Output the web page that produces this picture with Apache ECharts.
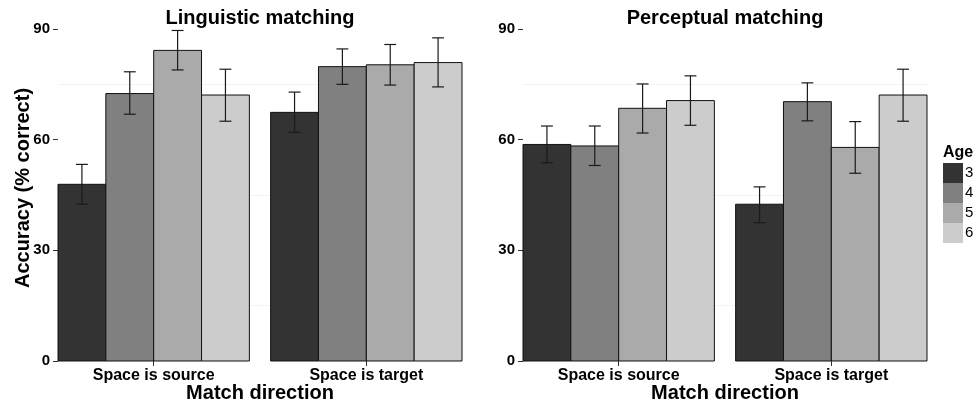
<!DOCTYPE html>
<html>
<head>
<meta charset="utf-8">
<script src="https://cdn.jsdelivr.net/npm/echarts@6/dist/echarts.min.js"></script>
<style>
html,body{margin:0;padding:0;background:#fff;}
#chart{width:976px;height:406px;}
</style>
</head>
<body>
<div id="chart"></div>
<script>
// ---- Data ----
const categories = ['Space is source', 'Space is target'];
const ages = ['3', '4', '5', '6'];
const ageColors = ['#333333', '#808080', '#aaaaaa', '#cccccc'];
const yTicks = [0, 30, 60, 90];

const linguisticSourceMean = [47.9, 72.5, 84.2, 72.1];
const linguisticSourceLow  = [42.5, 66.9, 78.9, 65.0];
const linguisticSourceHigh = [53.3, 78.4, 89.6, 79.1];
const linguisticTargetMean = [67.4, 79.8, 80.3, 80.9];
const linguisticTargetLow  = [62.0, 75.0, 74.8, 74.3];
const linguisticTargetHigh = [72.9, 84.6, 85.8, 87.6];

const perceptualSourceMean = [58.7, 58.3, 68.5, 70.6];
const perceptualSourceLow  = [53.7, 53.0, 61.8, 63.9];
const perceptualSourceHigh = [63.7, 63.7, 75.1, 77.3];
const perceptualTargetMean = [42.5, 70.3, 57.9, 72.1];
const perceptualTargetLow  = [37.5, 65.1, 50.9, 65.0];
const perceptualTargetHigh = [47.2, 75.4, 64.9, 79.1];

const panelTitles = ['Linguistic matching', 'Perceptual matching'];
const xTitle = 'Match direction';
const yTitle = 'Accuracy (% correct)';
const legendTitle = 'Age';
const panels = [
  {mean: [linguisticSourceMean, linguisticTargetMean], low: [linguisticSourceLow, linguisticTargetLow], high: [linguisticSourceHigh, linguisticTargetHigh]},
  {mean: [perceptualSourceMean, perceptualTargetMean], low: [perceptualSourceLow, perceptualTargetLow], high: [perceptualSourceHigh, perceptualTargetHigh]}
];

// ---- Layout ----
const FONT = 'Liberation Sans, Arial, Helvetica, sans-serif';
const grids = [
  {left: 58, top: 29, width: 404, height: 332, outerBoundsMode: 'none', containLabel: false},
  {left: 523, top: 29, width: 404, height: 332, outerBoundsMode: 'none', containLabel: false}
];
const GROUP_W = 0.9, BAR_W = GROUP_W / 4, CAP_HALF = 0.028;

function barRender(params, api) {
  const g = api.value(0), v = api.value(1), a = api.value(2);
  const x0 = g - GROUP_W / 2 + a * BAR_W;
  const p0 = api.coord([x0, v]);
  const p1 = api.coord([x0 + BAR_W, 0]);
  return {
    type: 'rect',
    shape: {x: p0[0], y: p0[1], width: p1[0] - p0[0], height: p1[1] - p0[1]},
    style: {fill: api.visual('color'), stroke: '#111', lineWidth: 1}
  };
}
function errRender(params, api) {
  const g = api.value(0), a = api.value(1), lo = api.value(2), hi = api.value(3);
  const xc = g - GROUP_W / 2 + (a + 0.5) * BAR_W;
  const top = api.coord([xc, hi]), bot = api.coord([xc, lo]);
  const cl = api.coord([xc - CAP_HALF, hi]), cr = api.coord([xc + CAP_HALF, hi]);
  const bl = api.coord([xc - CAP_HALF, lo]), br = api.coord([xc + CAP_HALF, lo]);
  const st = {stroke: '#1a1a1a', lineWidth: 1.2};
  return {
    type: 'group',
    children: [
      {type: 'line', shape: {x1: top[0], y1: top[1], x2: bot[0], y2: bot[1]}, style: st},
      {type: 'line', shape: {x1: cl[0], y1: cl[1], x2: cr[0], y2: cr[1]}, style: st},
      {type: 'line', shape: {x1: bl[0], y1: bl[1], x2: br[0], y2: br[1]}, style: st}
    ]
  };
}
function txt(text, x, y, font, align, rotation) {
  return {
    type: 'text', x: x, y: y, rotation: rotation || 0,
    style: {text: text, font: font, fill: '#000',
      textAlign: align, textVerticalAlign: 'middle', align: align, verticalAlign: 'middle'}
  };
}

const xAxes = [], yAxes = [], series = [], graphics = [];
grids.forEach((gr, pi) => {
  xAxes.push({
    gridIndex: pi, type: 'value', min: 0.55, max: 2.45,
    axisLine: {show: false},
    axisTick: {show: true, length: 5, customValues: [1, 2], lineStyle: {color: '#333', width: 1}},
    axisLabel: {customValues: [1, 2], formatter: v => categories[Math.round(v) - 1],
      color: '#000', fontWeight: 'bold', fontSize: 16, fontFamily: FONT, margin: 7},
    splitLine: {show: false}
  });
  yAxes.push({
    gridIndex: pi, type: 'value', min: yTicks[0], max: yTicks[yTicks.length - 1], interval: 30,
    axisLine: {show: false},
    axisTick: {show: true, length: 5, lineStyle: {color: '#333', width: 1}},
    axisLabel: {color: '#000', fontWeight: 'bold', fontSize: 15, fontFamily: FONT, margin: 8},
    splitLine: {show: false},
    minorTick: {show: false, splitNumber: 2},
    minorSplitLine: {show: true, lineStyle: {color: '#f3f3f3', width: 1}}
  });
  const p = panels[pi];
  ages.forEach((age, a) => {
    series.push({
      type: 'custom', name: age, xAxisIndex: pi, yAxisIndex: pi,
      itemStyle: {color: ageColors[a]},
      encode: {x: 0, y: 1},
      data: categories.map((c, g) => [g + 1, p.mean[g][a], a]),
      renderItem: barRender, z: 2, silent: true
    });
  });
  const errData = [];
  categories.forEach((c, g) => ages.forEach((age, a) => errData.push([g + 1, a, p.low[g][a], p.high[g][a]])));
  series.push({
    type: 'custom', xAxisIndex: pi, yAxisIndex: pi,
    encode: {x: 0, y: [2, 3]},
    data: errData, renderItem: errRender, z: 5, silent: true
  });
  graphics.push(txt(panelTitles[pi], gr.left + gr.width / 2, 18, 'bold 20px ' + FONT, 'center'));
  graphics.push(txt(xTitle, gr.left + gr.width / 2, 393, 'bold 20px ' + FONT, 'center'));
});

graphics.push(txt(yTitle, 23, 188, 'bold 20px ' + FONT, 'center', Math.PI / 2));
graphics.push(txt(legendTitle, 943, 153, 'bold 16px ' + FONT, 'left'));

const chart = echarts.init(document.getElementById('chart'), null, {renderer: 'canvas'});
chart.setOption({
  backgroundColor: '#fff',
  animation: false,
  grid: grids,
  xAxis: xAxes,
  yAxis: yAxes,
  legend: {
    data: ages.map((a, i) => ({name: a, itemStyle: {color: ageColors[i], borderWidth: 0}})),
    orient: 'vertical', left: 943, top: 163, padding: 0, itemGap: 0,
    itemWidth: 20, itemHeight: 20, icon: 'rect', selectedMode: false,
    textStyle: {color: '#000', fontSize: 15, fontFamily: FONT, padding: [0, 0, 0, -3]}
  },
  graphic: graphics,
  series: series
});
</script>
</body>
</html>
